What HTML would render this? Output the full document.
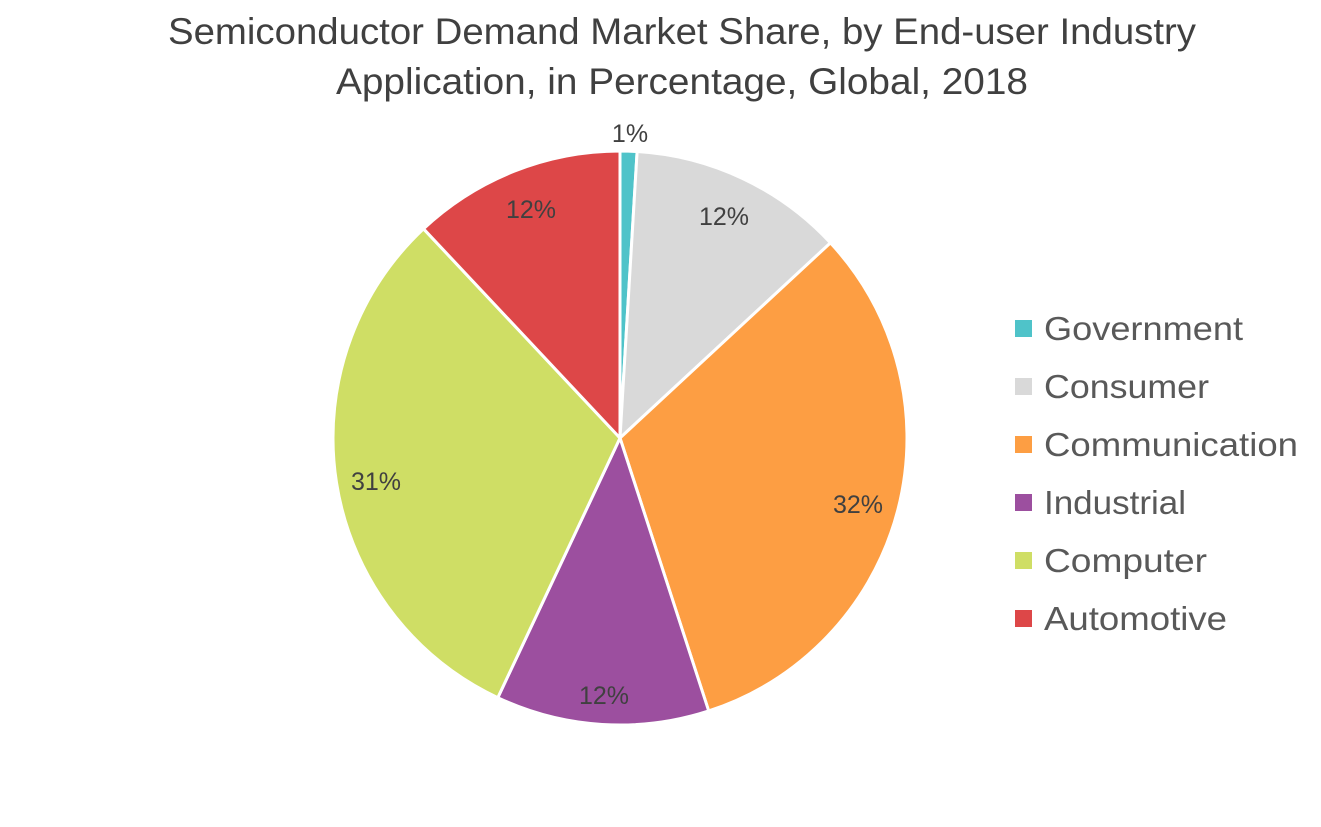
<!DOCTYPE html>
<html><head><meta charset="utf-8"><style>
html,body{margin:0;padding:0;background:#fff;}
svg{display:block;font-family:"Liberation Sans",sans-serif;}
</style></head><body>
<svg id="s" width="1321" height="827" viewBox="0 0 1321 827">
<text x="168" y="44" font-size="37" fill="#404040" textLength="1028" lengthAdjust="spacingAndGlyphs">Semiconductor Demand Market Share, by End-user Industry</text>
<text x="336" y="94" font-size="37" fill="#404040" textLength="692" lengthAdjust="spacingAndGlyphs">Application, in Percentage, Global, 2018</text>
<g id="pie"></g>
<g font-size="25" fill="#404040" text-anchor="middle">
<text x="630" y="142">1%</text>
<text x="724" y="225">12%</text>
<text x="858" y="513">32%</text>
<text x="604" y="704">12%</text>
<text x="376" y="490">31%</text>
<text x="531" y="218">12%</text>
</g>
<g font-size="33" fill="#595959" lengthAdjust="spacingAndGlyphs">
<rect x="1015" y="320" width="17" height="17" fill="#4fc3c9"/><text x="1044" y="340" textLength="199" lengthAdjust="spacingAndGlyphs">Government</text>
<rect x="1015" y="378" width="17" height="17" fill="#d9d9d9"/><text x="1044" y="398" textLength="165" lengthAdjust="spacingAndGlyphs">Consumer</text>
<rect x="1015" y="436" width="17" height="17" fill="#fd9e43"/><text x="1044" y="456" textLength="254" lengthAdjust="spacingAndGlyphs">Communication</text>
<rect x="1015" y="494" width="17" height="17" fill="#9c4f9f"/><text x="1044" y="514" textLength="142" lengthAdjust="spacingAndGlyphs">Industrial</text>
<rect x="1015" y="552" width="17" height="17" fill="#cfde65"/><text x="1044" y="572" textLength="163" lengthAdjust="spacingAndGlyphs">Computer</text>
<rect x="1015" y="610" width="17" height="17" fill="#dd4748"/><text x="1044" y="630" textLength="183" lengthAdjust="spacingAndGlyphs">Automotive</text>
</g>
</svg>
<script>
var cx=620,cy=438,r=287;
var cum=[0,0.95,13.1,45,57,88,100];
var cols=["#4fc3c9","#d9d9d9","#fd9e43","#9c4f9f","#cfde65","#dd4748"];
var g=document.getElementById("pie"),h="";
function pt(p){var a=p/100*2*Math.PI;return [cx+r*Math.sin(a),cy-r*Math.cos(a)];}
for(var i=0;i<6;i++){var a=pt(cum[i]),b=pt(cum[i+1]);var lg=(cum[i+1]-cum[i])>50?1:0;
h+='<path d="M'+cx+' '+cy+' L'+a[0].toFixed(2)+' '+a[1].toFixed(2)+' A'+r+' '+r+' 0 '+lg+' 1 '+b[0].toFixed(2)+' '+b[1].toFixed(2)+' Z" fill="'+cols[i]+'" stroke="#fff" stroke-width="3" stroke-linejoin="round"/>';}
g.innerHTML=h;
</script>
</body></html>
